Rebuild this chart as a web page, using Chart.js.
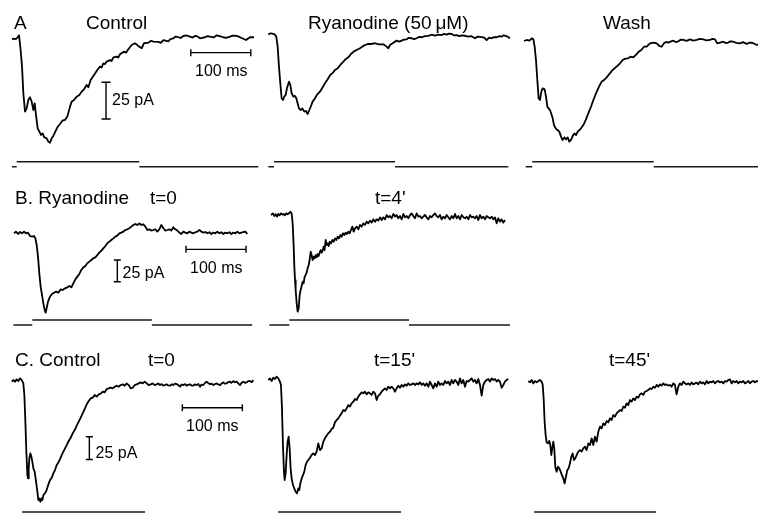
<!DOCTYPE html>
<html>
<head>
<meta charset="utf-8">
<script src="https://cdn.jsdelivr.net/npm/chart.js@4.4.1/dist/chart.umd.min.js"></script>
<style>
  body { margin: 0; background: #fff; }
  #fig { position: relative; width: 758px; height: 515px; overflow: hidden;
         font-family: "Liberation Sans", Arial, sans-serif; color: #000; }
  #fig canvas { position: absolute; left: 0; top: 0; }
  .lbl { position: absolute; line-height: 1; white-space: nowrap; }
  .big { font-size: 19px; }
  .small { font-size: 16px; }
</style>
</head>
<body>
<div id="fig"></div>
<script>
// traces: [time (ms), current (pA)] relative to the holding baseline
const ctrlA = [[0,0],[3.3,0.5],[6.7,0.2],[9.4,1.4],[11.7,2.7],[14.4,-7.3],[16.7,-18.6],[18.9,-36.8],[21.7,-49.3],[24.4,-47],[27.2,-41.4],[30,-39.5],[32.8,-42.5],[35.6,-48.2],[37.8,-43.6],[40,-51.6],[42.8,-60.7],[45.6,-63],[48.3,-65.2],[51.1,-64.1],[53.9,-66.8],[57.8,-67.5],[60.6,-69.8],[63.3,-70.5],[66.1,-67.5],[68.9,-65.9],[72.2,-63],[75.6,-60],[80,-57.7],[83.9,-55.5],[88.3,-55],[92.2,-52.7],[96.7,-45.9],[99.4,-42.5],[103.3,-41.4],[107.8,-39.1],[112.2,-38],[116.1,-35.7],[120,-34.1],[124.4,-31.1],[127.2,-32.7],[131.1,-27.7],[136.7,-24.3],[142.2,-20.9],[146.7,-18.6],[149.4,-19.3],[152.2,-16.4],[155,-16.9],[157.8,-15.2],[163.3,-14.1],[166,-14.8],[168.9,-12.3],[174.4,-11.8],[177,-12.4],[180,-10.2],[186.7,-8.4],[190,-9.1],[193.9,-6.8],[199.4,-3.9],[205,-2.7],[210.6,-4.5],[216.1,-6.1],[220,-2.7],[227.2,-2.3],[232,-1.0],[235.6,-1.6],[243.9,-1.8],[248,-2.4],[252.2,-0.5],[260.6,-1.4],[264,0.2],[268.9,0.7],[273,1.9],[277.2,1.4],[281,0.9],[285.6,2.3],[291,2.6],[296.7,1.8],[301,1.2],[305,2.3],[309,2.0],[313.3,0.7],[317,1.0],[321.7,1.4],[326,2.2],[330,1.8],[336,1.3],[341.1,2.7],[346,2.2],[352.2,1.4],[357,1.0],[363.3,1.8],[368,2.5],[374.4,2.3],[379,1.6],[382.8,0.9],[390,-0.5],[393,0.4],[396.7,1.4],[403.3,1.4]];

const ryanA = [[0,0],[4.4,0.7],[10,0.2],[13.3,-1.6],[15.6,-8.4],[17.8,-22],[20,-33.4],[22.2,-43.6],[24.4,-44.8],[26.7,-42.5],[28.9,-41.4],[31.1,-36.8],[34.4,-32.3],[36.7,-34.5],[38.9,-40.2],[41.7,-42.5],[44.4,-42],[46.7,-43.6],[48.9,-47],[51.1,-50.5],[53.9,-51.6],[56.7,-50.5],[60,-52.7],[62.8,-52.3],[65.6,-54.3],[68.3,-51.6],[71.1,-48.9],[73.9,-45.9],[77.8,-43.6],[81.7,-40.9],[86.1,-39.1],[90.6,-36.1],[94.4,-33.4],[98.9,-30.7],[103.3,-27.7],[107.8,-26.1],[111.1,-24.3],[115.6,-23.2],[120,-20.9],[124.4,-18.9],[128.9,-17],[133.3,-15.7],[137.8,-13.4],[142.2,-11.8],[147.2,-10.7],[152.8,-9.5],[156.7,-8.4],[161.1,-7.3],[166.7,-6.6],[172.2,-6.6],[177.8,-6.1],[184.4,-6.8],[191.7,-6.8],[197.2,-8.4],[200,-9.5],[202.8,-7.3],[208.3,-5.7],[213.9,-4.3],[218,-5.0],[222.2,-4.3],[226,-3.6],[230.6,-3.4],[234,-2.4],[238.9,-2.7],[243,-3.3],[247.2,-2.7],[251,-1.8],[255.6,-2],[261,-1.2],[266.7,-1.1],[272,-0.3],[277.8,-0.9],[283,-0.2],[288.9,-0.5],[293,0.3],[297.2,-0.2],[301,0.5],[305.6,0.2],[310,-0.8],[313.9,-0.5],[318,-1.2],[322.2,-0.7],[328,-1.0],[333.3,-1.6],[338,-1.2],[344.4,-2.7],[349,-1.6],[355.6,-2],[360,-2.3],[363.9,-3.9],[368,-2.2],[372.2,-2.7],[376,-1.9],[380.6,-2],[385,-1.3],[388.9,-1.6],[392,-0.7],[395.6,-1.1],[399,-1.6],[402.8,-2.7]];

const washA = [[0,0],[4.4,0.7],[8.9,0.2],[12.8,1.8],[15.6,1.1],[17.8,-3.9],[20,-13],[22.2,-26.6],[24.4,-39.1],[26.7,-40.2],[28.9,-34.5],[31.1,-32.3],[34.4,-33],[36.7,-38],[38.9,-44.8],[41.1,-45.9],[43.3,-47],[45.6,-49.8],[47.8,-52.7],[50,-57.3],[52.8,-59.5],[55.6,-60.7],[58.9,-61.8],[61.7,-65.2],[64.4,-67.5],[67.2,-65.7],[70,-67],[72.8,-65.7],[75.6,-68.6],[78.3,-67.5],[81.1,-64.8],[83.9,-63],[86.7,-64.1],[89.4,-61.8],[92.2,-60.7],[95,-59.5],[98.9,-57.3],[102.8,-53.9],[107.2,-49.3],[111.7,-44.8],[115.6,-40.2],[120,-35.7],[124.4,-31.6],[129.4,-27.7],[133.3,-26.6],[137.8,-24.8],[142.2,-22.5],[146.7,-20.2],[151.1,-18.6],[155.6,-17],[160,-15.2],[164.4,-13],[168.9,-12],[173.3,-11.8],[177.8,-10.7],[182.2,-11.1],[186.7,-9.5],[191.1,-7.3],[195.6,-6.1],[200,-3.9],[204.4,-3.9],[210,-1.6],[215.6,-1.1],[221.1,-1.6],[225.6,-3.4],[229.4,-3.9],[233.3,-1.6],[237,-0.6],[240.6,-1.1],[245,-0.3],[248.9,0.2],[253,-0.7],[257.2,-0.2],[261,0.9],[265.6,0.7],[271,0.1],[276.7,1.1],[282,0.3],[287.8,0.7],[293,1.4],[298.9,1.1],[304,0.4],[310,0.7],[314,1.5],[318.3,1.1],[322.2,-1.6],[326.7,-1.1],[332.2,-0.5],[336,-1.4],[340.6,-1.1],[344,-0.2],[348.9,-0.5],[354,-1.3],[360,-1.6],[365,-0.8],[371.1,-2],[375,-1.2],[379.4,-1.1],[384,-1.9],[387.8,-2.7],[392.2,-2.3]];

const ryanB0 = [[0,0],[3.3,1.9],[6.7,-0.8],[10,1.5],[13.3,0],[16.7,1.9],[20,0],[23.3,0.8],[26.7,-3.1],[30,-3.8],[33.3,-3.1],[35.6,-5.8],[37.8,-13.5],[40,-26.9],[42.2,-46.2],[44.4,-61.5],[46.7,-71.2],[48.9,-80.8],[51.1,-88.5],[52.8,-91.5],[54.4,-86.5],[56.7,-78.8],[60,-73.1],[63.3,-70],[66.7,-68.5],[70,-67.3],[73.9,-68.5],[77.8,-64.6],[81.1,-65.4],[85,-63.5],[88.9,-62.3],[92.2,-60.8],[95.6,-62.3],[98.9,-57.7],[102.2,-53.1],[105.6,-50],[108.9,-46.9],[112.2,-42.3],[115.6,-39.2],[118.9,-37.7],[122.2,-34.6],[125.6,-32.7],[128.9,-30.8],[132.2,-28.8],[135.6,-27.7],[138.9,-25],[142.2,-22.3],[145.6,-20],[148.9,-17.3],[152.2,-14.6],[155.6,-11.5],[158.9,-9.6],[162.2,-7.7],[165.6,-5.8],[168.9,-3.8],[172.2,-2.7],[175.6,0],[178.9,0.8],[182.2,1.9],[185.6,3.8],[188.9,4.6],[192.2,5.8],[195.6,7.7],[198.9,9.6],[202.2,10.8],[205.6,9.6],[208.9,11.5],[212.2,9.6],[215.6,10.4],[218.9,7.7],[222.2,3.8],[225.6,4.6],[228.9,3.1],[232.2,3.8],[235.6,4.6],[238.9,1.9],[242.2,4.6],[245.6,9.6],[248.9,5.8],[252.2,3.1],[255.6,3.8],[258.9,4.6],[262.2,3.1],[265.6,6.9],[268.9,4.6],[272.2,3.1],[275.6,0.8],[278.9,-0.8],[282.2,1.9],[285.6,0.8],[288.9,0],[292.2,1.9],[295.6,0.8],[298.9,0],[302.2,1.2],[305.6,1.9],[308.9,3.8],[312.2,1.9],[315.6,0.8],[318.9,1.5],[322.2,0],[325.6,1.2],[328.9,-0.8],[332.2,0.8],[335.6,0],[338.9,1.9],[342.2,0],[345.6,1.2],[348.9,-0.8],[352.2,0.8],[355.6,0],[358.9,1.2],[362.2,-0.8],[365.6,0.8],[368.9,0],[372.2,1.9],[375.6,0],[378.9,0.8],[382.2,1.5],[385.6,1.9],[388.9,-0.8]];

const ryanB4 = [[0,0],[3.3,1.9],[5.6,-1.2],[7.8,0.8],[10,-1.9],[12.2,1.2],[14.4,-0.4],[16.7,1.9],[18.9,0.4],[21.1,1.2],[23.3,-0.4],[25.6,1.9],[27.8,0.8],[30,1.9],[32.2,3.8],[34.4,1.9],[36.1,-9.6],[37.8,-36.5],[38.9,-59.6],[40,-75],[41.1,-86.5],[42.8,-101.9],[44.4,-111.5],[46.1,-107.7],[47.8,-92.3],[49.4,-86.5],[51.1,-81.9],[52.8,-76.9],[54.4,-78.8],[56.1,-71.2],[57.8,-69.2],[59.4,-66.5],[61.1,-61.5],[62.8,-57.7],[64.4,-51.9],[66.1,-42.3],[67.8,-46.2],[69.4,-51.9],[71.1,-48.1],[72.8,-50],[74.4,-46.2],[76.1,-48.8],[77.8,-45],[79.4,-47.3],[81.1,-43.5],[82.8,-40.4],[84.4,-43.5],[86.1,-41.2],[87.8,-36.5],[89.4,-40.4],[91.1,-28.8],[92.8,-34.6],[94.4,-32.7],[96.1,-35.8],[97.8,-30.8],[100,-32.7],[102.2,-28.8],[104.4,-30.8],[106.7,-26.9],[108.9,-28.8],[111.1,-25],[113.3,-26.9],[115.6,-23.1],[117.8,-25],[120,-21.2],[122.2,-23.1],[124.4,-20.4],[126.7,-21.9],[128.9,-19.2],[131.1,-21.2],[133.3,-17.3],[135.6,-13.5],[137.8,-19.2],[140,-15.4],[142.8,-13.5],[145.6,-16.5],[148.3,-11.5],[151.1,-13.5],[153.9,-9.6],[156.7,-11.5],[159.4,-7.7],[162.2,-9.6],[165,-6.5],[167.8,-8.8],[170.6,-5],[173.3,-7.7],[176.1,-5],[178.9,-6.5],[181.7,-2.7],[184.4,-5.8],[187.2,-2.7],[190,-5],[192.8,0],[195.6,-2.7],[198.3,-1.2],[201.1,-3.8],[203.9,1.2],[206.7,-1.9],[209.4,0],[212.2,-3.8],[215,-1.2],[217.8,-5],[220.6,1.2],[223.3,-2.7],[226.1,-1.2],[228.9,-3.8],[231.7,0],[234.4,1.9],[237.2,-1.2],[240,-3.8],[242.8,1.9],[245.6,-1.9],[248.3,-1.2],[251.1,-3.8],[253.9,-1.9],[256.7,0],[259.4,-2.7],[262.2,-5],[265,-1.2],[267.8,-2.7],[270.6,0],[273.3,1.9],[276.1,-1.2],[278.9,-2.7],[281.7,0],[284.4,-5],[287.2,-1.9],[290,-3.8],[292.8,0],[295.6,-2.7],[298.3,-5],[301.1,-1.2],[303.9,-3.8],[306.7,1.2],[309.4,-3.8],[312.2,-1.2],[315,-5],[317.8,0],[320.6,-2.7],[323.3,-3.8],[326.1,-1.9],[328.9,-5],[331.7,0],[334.4,-2.7],[337.2,-1.9],[340,-3.8],[342.8,-1.2],[345.6,-5.8],[348.3,0],[351.1,-3.8],[353.9,-1.9],[356.7,-5],[359.4,-1.2],[362.2,-2.7],[365,-3.8],[367.8,-1.9],[370.6,-5],[373.3,-2.7],[376.1,-9.6],[378.9,-3.8],[381.7,-7.7],[384.4,-5],[387.2,-8.8],[390,-5.8]];

const ctrlC0 = [[0,0],[2.8,1.8],[5.6,0],[8.3,2.6],[11.1,0.7],[13.9,3.7],[16.7,1.8],[19.4,-1.8],[21.1,-14.7],[22.8,-44.1],[24.4,-77.2],[26.1,-102.9],[27.2,-106.6],[28.3,-95.6],[29.4,-84.6],[31.1,-79],[32.8,-82.7],[34.4,-88.2],[36.1,-95.6],[38.3,-99.3],[40.6,-110.3],[42.8,-121.3],[44.4,-130.5],[46.1,-128.7],[47.8,-132.4],[49.4,-128.7],[51.1,-130.5],[52.8,-125],[55,-123.2],[57.2,-121.3],[59.4,-116.9],[61.7,-112.1],[63.9,-108.5],[66.7,-105.9],[69.4,-101.1],[72.2,-97.4],[75,-91.9],[77.8,-89],[80.6,-85.3],[83.3,-80.9],[86.1,-77.2],[88.9,-73.5],[91.7,-69.9],[95,-65.4],[98.3,-61.8],[101.7,-57],[105,-53.3],[108.3,-48.5],[111.7,-44.1],[115,-39.7],[118.3,-34.9],[121.7,-30.1],[125,-25],[128.3,-21.3],[131.7,-18.4],[135,-17.6],[138.3,-14.7],[141.7,-16.5],[145,-14],[148.3,-13.2],[151.7,-11],[155,-11.8],[158.3,-8.1],[161.7,-7.4],[165,-6.6],[168.3,-7.4],[171.7,-5.5],[175,-4.4],[178.3,-5.5],[181.7,-3.7],[185,-2.9],[188.3,-4.4],[191.7,-1.8],[195,-3.7],[198.3,-7.4],[201.7,-6.6],[205,-3.7],[208.3,-2.9],[211.7,-1.8],[215,-0.7],[218.3,-1.8],[221.7,0],[225,-1.8],[228.3,-3.7],[231.7,-2.9],[235,-1.8],[238.3,-3.7],[241.7,-2.9],[244,-1.9],[247.2,-3.7],[250,-2.6],[252.8,-4.4],[256,-3.4],[258.3,-2.9],[261,-4.1],[263.9,-4.4],[267,-2.8],[269.4,-3.7],[272,-2.2],[275,-2.6],[278,-4.0],[280.6,-5.5],[283,-3.1],[286.1,-3.7],[289,-2.6],[291.7,-4.4],[294,-3.5],[297.2,-2.9],[300,-4.2],[302.8,-4.4],[305,-3.0],[308.3,-3.7],[311,-2.6],[313.9,-5.5],[316,-3.3],[319.4,-3.7],[322,-1.5],[325,0],[328,-1.8],[330.6,-2.9],[333,-2.1],[336.1,-3.7],[339,-2.5],[341.7,-1.8],[344,-3.0],[347.2,-3.7],[350,-1.9],[352.8,-0.7],[355,-2.2],[358.3,-1.8],[361,-0.4],[363.9,0],[366,-1.3],[369.4,0.7],[372,-0.6],[375,0],[378,-2.0],[380.6,-3.7],[383,-1.4],[386.1,0],[389,-1.2],[391.7,-0.7],[394,0.6],[397.2,0.7],[400,-0.5],[402.8,1.8]];

const ctrlC15 = [[0,0],[2.8,1.8],[5.6,-1.1],[8.3,2.6],[11.1,1.1],[13.9,3.7],[16.7,1.8],[19.4,-1.8],[21.1,-5.5],[22.8,-31.3],[24.4,-71.7],[26.1,-101.1],[27.2,-110.3],[28.9,-102.9],[30.6,-82.7],[32.2,-68],[33.9,-62.5],[35.6,-75.4],[37.2,-97.4],[38.9,-108.5],[41.1,-115.8],[43.3,-119.5],[45.6,-123.2],[47.8,-125],[50,-119.5],[51.7,-121.3],[53.3,-114],[55.6,-108.5],[57.8,-104.8],[60,-101.1],[62.2,-93.8],[64.4,-90.1],[66.7,-88.2],[69.4,-85.7],[72.2,-82.7],[75,-80.9],[77.8,-82.7],[80.6,-79],[83.3,-69.9],[86.1,-77.2],[88.9,-75.4],[91.7,-68],[94.4,-64.3],[97.2,-61.4],[100,-58.8],[102.8,-57],[105.6,-54],[108.3,-52.6],[111.1,-46.7],[113.9,-44.1],[116.7,-42.3],[119.4,-39.3],[122.2,-36.8],[125,-33.1],[127.8,-34.2],[130.6,-31.3],[133.3,-27.6],[136.1,-29.4],[138.9,-25.7],[141.7,-23.9],[144.4,-21],[147.2,-22.1],[150,-18.4],[152.8,-15.8],[155.6,-13.6],[158.3,-14.7],[161.1,-12.9],[163.9,-15.8],[166.7,-13.6],[169.4,-14.7],[172.2,-16.5],[175,-12.9],[177.8,-14.7],[180.6,-22.1],[183.3,-17.3],[186.1,-15.8],[188.9,-12.9],[191.7,-11],[194.4,-9.2],[197.2,-11],[200,-7.4],[202.8,-9.2],[205.6,-7.4],[208.3,-9.2],[211.1,-12.9],[213.9,-9.2],[216.7,-6.3],[219.4,-8.5],[222.2,-5.5],[225,-7.4],[227.8,-4.8],[230.6,-6.3],[233.3,-3.7],[236.1,-5.5],[238.9,-4.8],[241.7,-3.7],[244.4,-5.5],[247.2,-3.7],[250,-4.8],[252.8,-2.6],[255.6,-5.5],[258.3,-3.7],[261.1,-6.3],[263.9,-3.7],[266.7,-7.4],[269.4,-1.8],[272.2,-5.5],[275,-9.2],[277.8,-3.7],[280.6,-7.4],[283.3,-1.8],[286.1,-5.5],[288.9,-3.7],[291.7,-5.5],[294.4,-1.1],[297.2,-3.7],[300,-1.8],[302.8,-5.5],[305.6,0],[308.3,-3.7],[311.1,0],[313.9,-1.8],[316.7,-5.5],[319.4,1.8],[322.2,-3.7],[325,0],[327.8,-7.4],[330.6,-1.1],[333.3,-1.8],[336.1,0],[338.9,1.8],[341.7,-1.8],[344.4,0],[347.2,-3.7],[350,1.1],[352.8,-5.5],[355.6,-17.3],[358.3,-5.5],[361.1,-1.8],[363.9,0],[366.7,1.1],[369.4,-1.8],[372.2,1.8],[375,0],[377.8,1.1],[380.6,-1.8],[383.3,0],[386.1,-1.8],[388.9,-8.5],[391.7,-5.5],[394.4,-1.8],[397.2,0],[400,1.1]];

const ctrlC45 = [[0,0],[2.8,-1.5],[5.6,1.1],[8.3,-2.6],[11.1,0],[13.9,-1.5],[16.7,0],[19.4,1.1],[22.2,-0.7],[23.9,-3.7],[25.6,-19.1],[27.2,-44.9],[28.9,-59.6],[30.6,-67.6],[32.8,-68.8],[35,-66.2],[36.7,-70.6],[38.3,-81.6],[40,-74.3],[41.7,-66.9],[43.3,-74.3],[45,-94.5],[47.2,-100],[49.4,-94.5],[51.7,-96.3],[53.9,-100],[56.1,-103.7],[58.3,-107.4],[60.6,-112.9],[62.8,-105.5],[65,-98.2],[67.2,-96.3],[69.4,-90.8],[71.7,-83.5],[73.9,-79.8],[76.1,-87.1],[78.3,-85.3],[80.6,-81.6],[83.3,-77.9],[86.1,-76.1],[88.9,-77.9],[91.7,-74.3],[94.4,-72.4],[97.2,-76.1],[100,-68.8],[102.8,-70.6],[105.6,-63.2],[108.3,-70.6],[111.1,-61.4],[113.9,-66.9],[116.7,-55.9],[119.4,-50.4],[122.2,-52.2],[125,-46.7],[127.8,-48.5],[130.6,-44.1],[133.3,-45.6],[136.1,-41.2],[138.9,-43],[141.7,-37.5],[144.4,-39.3],[147.2,-35.7],[150,-33.8],[152.8,-32],[155.6,-33.1],[158.3,-28.3],[161.1,-29.4],[163.9,-24.6],[166.7,-26.5],[169.4,-21],[172.2,-22.8],[175,-19.1],[177.8,-21],[180.6,-17.3],[183.3,-18.4],[186.1,-14.7],[188.9,-13.6],[191.7,-15.4],[194.4,-11.8],[197.2,-11],[200,-9.9],[202.8,-8.1],[205.6,-8.8],[208.3,-6.3],[211.1,-7.4],[213.9,-4.4],[216.7,-6.3],[219.4,-3.7],[222.2,-5.1],[225,-2.6],[227.8,-4.4],[230.6,-3.7],[233.3,-5.1],[236.1,-4.4],[238.9,-6.3],[241.7,-2.6],[244.4,-4.4],[247.2,-14.7],[250,-6.3],[252.8,-2.6],[255.6,-4.4],[258.3,-0.7],[261.1,-2.6],[263.9,-3.7],[266.7,-2.6],[269.4,-4.4],[272.2,-1.5],[275,-3.7],[277.8,-2.6],[280.6,-1.8],[283.3,-3.7],[286.1,-0.7],[288.9,-2.6],[291.7,-1.5],[294.4,-3.7],[297.2,0],[300,-2.6],[302.8,-0.7],[305.6,-1.5],[308.3,0],[311.1,-2.6],[313.9,-0.7],[316.7,0],[319.4,-1.5],[322.2,-0.7],[325,-2.6],[327.8,0],[330.6,-0.7],[333.3,1.1],[336.1,1.8],[338.9,-2.6],[341.7,0],[344.4,-1.5],[347.2,0],[350,-2.6],[352.8,-0.7],[355.6,-1.5],[358.3,0],[361.1,-2.6],[363.9,-1.5],[366.7,0],[369.4,-2.6],[372.2,-0.7],[375,0],[377.8,-1.5],[380.6,0],[383.3,-0.7]];

// command pulse timing, ms: [holding start, step on, step off, holding end]
const stimCtrlA  = [0, 7.8, 212.2, 410.5];
const stimRyanA  = [0, 9.5, 211.2, 400];
const stimWashA  = [2.8, 13.8, 216.2, 392];
const stimRyanB0 = [-1.1, 30.5, 229.7, 397];
const stimRyanB4 = [-2.8, 30.5, 230, 398.3];
const stimCtrlC0 = [0, 17.2, 222.2, 410];
const stimCtrlC15 = [0, 16.2, 221.2, 400];
const stimCtrlC45 = [0, 9.5, 212.8, 383];

const BAR_MS = 100;
const BAR_PA = 25;

// page layout
const W = 758, H = 515;
const PX_PER_MS = 0.6;
const STEP_PX = 5;

const panels = [
  { trace: ctrlA,   stim: stimCtrlA,   x0: 12,    y0: 39.3,  k: 1.467, stimY: 161.7,
    hBar: { t: 298, I: -9.1 }, vBar: { t: 156.7, I: -29.3 }, capW: 9 },
  { trace: ryanA,   stim: stimRyanA,   x0: 268.3, y0: 34.3,  k: 1.467, stimY: 161.7 },
  { trace: washA,   stim: stimWashA,   x0: 524,   y0: 41,    k: 1.467, stimY: 161.7 },
  { trace: ryanB0,  stim: stimRyanB0,  x0: 14,    y0: 233.3, k: 0.867, stimY: 320,
    hBar: { t: 286.7, I: -18.5 }, vBar: { t: 172.2, I: -30.8 }, capW: 7 },
  { trace: ryanB4,  stim: stimRyanB4,  x0: 271,   y0: 215,   k: 0.867, stimY: 320 },
  { trace: ctrlC0,  stim: stimCtrlC0,  x0: 11.7,  y0: 381.7, k: 0.907, stimY: 512,
    hBar: { t: 284.4, I: -28.7 }, vBar: { t: 129.4, I: -60.7 }, capW: 7 },
  { trace: ctrlC15, stim: stimCtrlC15, x0: 268.3, y0: 380,   k: 0.907, stimY: 512 },
  { trace: ctrlC45, stim: stimCtrlC45, x0: 528.3, y0: 381,   k: 0.907, stimY: 512 }
];

const labels = [
  ['A', 14, 12.5, 'big'], ['Control', 86, 12.5, 'big'],
  ['Ryanodine (50\u2009\u03bcM)', 308, 12.5, 'big'], ['Wash', 603, 12.5, 'big'],
  ['100 ms', 195, 63, 'small'], ['25 pA', 112, 92, 'small'],
  ['B. Ryanodine', 15, 187.5, 'big'], ['t=0', 150, 187.5, 'big'], ["t=4'", 375, 187.5, 'big'],
  ['100 ms', 190, 259.5, 'small'], ['25 pA', 122.5, 265, 'small'],
  ['C. Control', 15, 350, 'big'], ['t=0', 148, 350, 'big'],
  ["t=15'", 374, 350, 'big'], ["t=45'", 609, 350, 'big'],
  ['100 ms', 186, 418, 'small'], ['25 pA', 95.5, 444.5, 'small']
];

const fig = document.getElementById('fig');

const stimPoints = s => [
  { x: s[0], y: 0 }, { x: s[1], y: 0 }, { x: s[1], y: null },
  { x: s[1], y: 1 }, { x: s[2], y: 1 }, { x: s[2], y: null },
  { x: s[2], y: 0 }, { x: s[3], y: 0 }
];

const makePanel = p => {
  const canvas = document.createElement('canvas');
  canvas.width = W;
  canvas.height = H;
  fig.appendChild(canvas);

  const datasets = [
    {
      data: p.trace.map(([t, i]) => ({ x: t, y: i })),
      borderColor: '#000', borderWidth: 1.8, yAxisID: 'y'
    },
    {
      data: stimPoints(p.stim),
      borderColor: '#1a1a1a', borderWidth: 1.5, yAxisID: 'ys'
    }
  ];

  if (p.hBar) {
    const capPA = 3.5 / p.k;
    const capMS = p.capW / 2 / PX_PER_MS;
    const h = p.hBar, v = p.vBar;
    datasets.push({
      data: [
        { x: h.t, y: h.I - capPA }, { x: h.t, y: h.I + capPA }, { x: h.t, y: null },
        { x: h.t, y: h.I }, { x: h.t + BAR_MS, y: h.I }, { x: h.t + BAR_MS, y: null },
        { x: h.t + BAR_MS, y: h.I - capPA }, { x: h.t + BAR_MS, y: h.I + capPA }
      ],
      borderColor: '#000', borderWidth: 1.4, yAxisID: 'y'
    });
    datasets.push({
      data: [
        { x: v.t - capMS, y: v.I }, { x: v.t + capMS, y: v.I }, { x: v.t, y: null },
        { x: v.t, y: v.I }, { x: v.t, y: v.I - BAR_PA }, { x: v.t, y: null },
        { x: v.t - capMS, y: v.I - BAR_PA }, { x: v.t + capMS, y: v.I - BAR_PA }
      ],
      borderColor: '#000', borderWidth: 1.4, yAxisID: 'y'
    });
  }

  const xMin = -p.x0 / PX_PER_MS;
  const yMax = p.y0 / p.k;
  const sMax = 1 + p.stimY / STEP_PX;

  new Chart(canvas, {
    type: 'line',
    data: { datasets: datasets },
    options: {
      responsive: false,
      animation: false,
      devicePixelRatio: 1,
      events: [],
      layout: { padding: 0 },
      elements: {
        point: { radius: 0 },
        line: { tension: 0, borderJoinStyle: 'round', borderCapStyle: 'butt' }
      },
      plugins: {
        legend: { display: false },
        tooltip: { enabled: false }
      },
      scales: {
        x: { type: 'linear', display: false, bounds: 'data', min: xMin, max: xMin + W / PX_PER_MS },
        y: { type: 'linear', display: false, bounds: 'data', min: yMax - H / p.k, max: yMax },
        ys: { type: 'linear', display: false, bounds: 'data', min: sMax - H / STEP_PX, max: sMax }
      }
    }
  });
};

panels.forEach(makePanel);

labels.forEach(([text, x, y, cls]) => {
  const d = document.createElement('div');
  d.className = 'lbl ' + cls;
  d.textContent = text;
  d.style.left = x + 'px';
  d.style.top = y + 'px';
  fig.appendChild(d);
});
</script>
</body>
</html>
